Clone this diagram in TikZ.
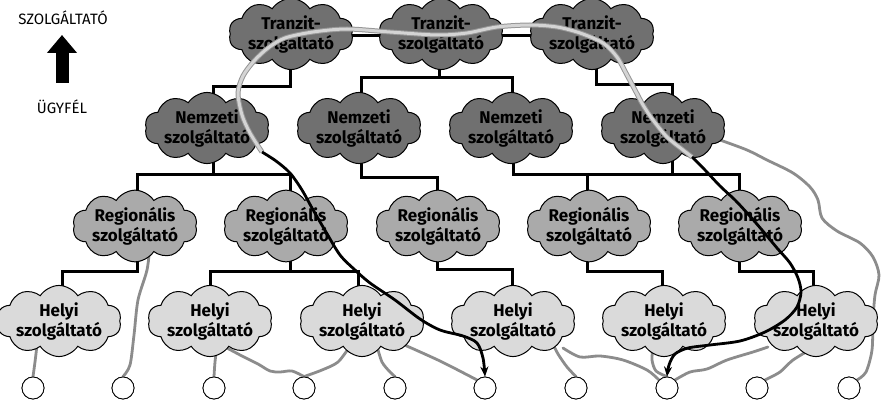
\documentclass[tikz,border=0pt]{standalone}
\usepackage{fontspec}
\setmainfont{Fira Sans}
\usetikzlibrary{shapes.symbols,arrows.meta}
\definecolor{cdark}{RGB}{112,112,112}
\definecolor{cmid}{RGB}{170,170,170}
\definecolor{clight}{RGB}{218,218,218}
\definecolor{cwire}{RGB}{140,140,140}
\definecolor{chl}{RGB}{212,212,212}
\definecolor{chledge}{RGB}{150,150,150}
\begin{document}
\begin{tikzpicture}[x=1pt,y=-1pt,
  cloudbase/.style={cloud, cloud puffs=10, cloud puff arc=115, cloud ignores aspect,
    draw=black, line width=1pt, minimum width=120pt, minimum height=56pt,
    inner sep=0pt, align=center, font=\bfseries\fontsize{17}{20}\selectfont},
  tranzit/.style={cloudbase, fill=cdark},
  nemzeti/.style={cloudbase, fill=cdark, minimum height=54pt},
  regio/.style={cloudbase, fill=cmid, minimum height=51pt},
  helyi/.style={cloudbase, fill=clight, minimum height=58pt},
  tree/.style={line width=3pt, black},
  wire/.style={line width=2.8pt, cwire, line cap=round},
  user/.style={circle, draw=black, fill=white, line width=0.8pt, minimum size=22pt, inner sep=0pt},
  legend/.style={font=\fontsize{15}{17}\selectfont},
  route/.style={line width=2.8pt, black, -{Stealth[length=10pt,width=8pt]}},
]
\useasboundingbox (0,0) rectangle (884,406);

% legend
\node[legend] (szolg) at (63,18) {SZOLGÁLTATÓ};
\node[legend] (ugy) at (62,107) {ÜGYFÉL};
\draw[line width=13pt, -{Triangle[length=18pt,width=29pt]}] (ugy |- 0,83) -- (ugy |- 0,35);

% node positions
\coordinate (pt1) at (291,34);
\coordinate (pt2) at (441,34);
\coordinate (pt3) at (592,34);

% tree connectors (under clouds)
\draw[tree] (290,36) -- (595,36);
\draw[tree] (290,36) |- (250,87) -| (213,128);
\draw[tree] (439,36) -- (439,78);
\draw[tree] (361,128) |- (440,78) -| (512,128);
\draw[tree] (596,36) |- (630,85) -| (672,128);

\draw[tree] (213,128) -- (213,175);
\draw[tree] (137,226) |- (213,175) -| (290,226);
\draw[tree] (361,128) |- (400,178) -| (437,226);
\draw[tree] (513,128) |- (600,175) -| (739,226);
\draw[tree] (672,128) -- (672,175);
\draw[tree] (587,226) -- (587,175);

\draw[tree] (137,226) |- (100,272) -| (62,321);
\draw[tree] (290,226) -- (290,272);
\draw[tree] (210,321) |- (290,272) -| (358,321);
\draw[tree] (437,226) |- (480,270) -| (512,321);
\draw[tree] (587,226) |- (620,272) -| (662,321);
\draw[tree] (739,226) |- (780,272) -| (813,321);

% users
\foreach \i/\x in {1/33,2/123,3/214,4/304,5/395,6/485,7/576,8/667,9/757,10/849}
  \node[user] (c\i) at (\x,388) {};

% wires
\draw[wire] plot[smooth] coordinates {(37,345) (35,362) (c1.north)};
\draw[wire] plot[smooth] coordinates {(150,245) (147,270) (138,300) (134,335) (130,365) (c2.north)};
\draw[wire] plot[smooth] coordinates {(217,345) (215,362) (c3.north)};
\draw[wire] plot[smooth] coordinates {(227,348) (242,356) (258,364) (270,371) (280,372) (292,371) (c4.north)};
\draw[wire] plot[smooth] coordinates {(350,346) (338,362) (322,370) (c4.north)};
\draw[wire] plot[smooth] coordinates {(377,346) (382,362) (390,372) (c5.north)};
\draw[wire] plot[smooth] coordinates {(400,343) (440,361) (c6.north west)};
\draw[wire] plot[smooth] coordinates {(553,344) (558,354) (567,367) (c7.north)};
\draw[wire] plot[smooth] coordinates {(563,348) (580,357) (600,356) (623,360) (647,370) (c8.north west)};
\draw[wire] plot[smooth] coordinates {(653,348) (652,360) (656,371) (c8.north)};
\draw[wire] plot[smooth] coordinates {(768,347) (753,352) (727,360) (707,369) (690,372) (c8.north east)};
\draw[wire] plot[smooth] coordinates {(813,348) (793,360) (780,372) (c9.north east)};
\draw[wire] plot[smooth] coordinates {(720,140) (747,150) (767,160) (793,173) (810,187) (818,200) (822,218) (837,231) (860,243) (873,257) (879,275) (875,295) (873,320) (872,350) (866,372) (c10.north east)};

% clouds
\node[tranzit] (t1) at (pt1) {Tranzit-\\szolgáltató};
\node[tranzit] (t2) at (pt2) {Tranzit-\\szolgáltató};
\node[tranzit] (t3) at (pt3) {Tranzit-\\szolgáltató};
\foreach \i/\x in {1/207,2/359,3/511,4/663}
  \node[nemzeti] (n\i) at (\x,128) {Nemzeti\\szolgáltató};
\foreach \i/\x in {1/135,2/286,3/438,4/589,5/740}
  \node[regio] (r\i) at (\x,226) {Regionális\\szolgáltató};
\foreach \i/\x in {1/59,2/210,3/362,4/513,5/664,6/816}
  \node[helyi] (h\i) at (\x,321) {Helyi\\szolgáltató};

% users again on top of wires
\foreach \i/\x in {1/33,2/123,3/214,4/304,5/395,6/485,7/576,8/667,9/757,10/849}
  \node[user] at (\x,388) {};

% highlighted route
\coordinate (ra) at (262,152);
\coordinate (rb) at (692,157);
\def\hlpts{(ra) (250,133) (242,115) (238,93) (243,76) (254,61) (268,48) (285,38) (313,32) (347,29) (390,32) (437,35) (467,33) (497,27) (530,25) (557,27) (580,33) (603,43) (617,57) (627,75) (635,90) (643,105) (653,120) (667,137) (683,150) (rb)}
\draw[chledge, line width=5pt] plot[smooth] coordinates {\hlpts};
\draw[chl, line width=3pt] plot[smooth] coordinates {\hlpts};
\draw[route] plot[smooth] coordinates {(ra) (276,161) (290,173) (302,190) (312,208) (326,232) (340,255) (355,270) (370,283) (395,300) (420,319) (440,330) (463,336) (477,343) (483,358) (c6.north)};
\draw[route] plot[smooth] coordinates {(rb) (705,170) (720,186) (735,200) (748,214) (762,230) (777,248) (790,263) (798,278) (801,292) (797,307) (785,320) (765,332) (740,341) (710,345) (688,348) (675,354) (669,365) (c8.north)};
\end{tikzpicture}
\end{document}
